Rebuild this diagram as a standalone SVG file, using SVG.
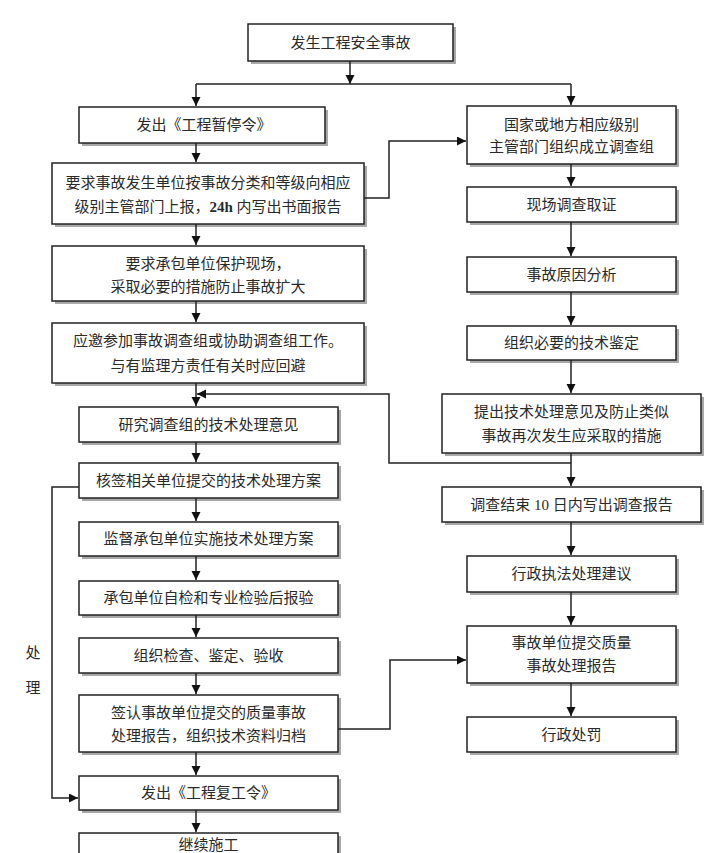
<svg xmlns="http://www.w3.org/2000/svg" width="720" height="853" viewBox="0 0 720 853">
<style>
.bx{fill:#fff;stroke:#222;stroke-width:1.5}
.sh{fill:#a8a8a8}
.t{font-family:"Liberation Serif","Noto Sans CJK SC",serif;font-size:15px;fill:#2a2a2a;text-anchor:middle}
.ln{fill:none;stroke:#222;stroke-width:1.5}
.ar{fill:none;stroke:#222;stroke-width:1.5;marker-end:url(#ah)}
</style>
<defs>
<marker id="ah" markerUnits="userSpaceOnUse" markerWidth="10" markerHeight="10" refX="9" refY="4.5" orient="auto">
<path d="M0,0 L9,4.5 L0,9 z" fill="#111"/>
</marker>
</defs>
<rect width="720" height="853" fill="#fff"/>

<g id="n-top"><rect class="sh" x="251" y="27" width="205" height="37"/><rect class="bx" x="248" y="24" width="205" height="37"/><text class="t" x="350.5" y="48">发生工程安全事故</text></g>

<g id="n-l1"><rect class="sh" x="82" y="110" width="246" height="36"/><rect class="bx" x="79" y="107" width="246" height="36"/><text class="t" x="204" y="130">发出《工程暂停令》</text></g>
<g id="n-l2"><rect class="sh" x="55" y="166" width="312" height="61"/><rect class="bx" x="52" y="163" width="312" height="61"/><text class="t" x="208" y="188">要求事故发生单位按事故分类和等级向相应</text><text class="t" x="208" y="212">级别主管部门上报，<tspan font-weight="bold">24h</tspan> 内写出书面报告</text></g>
<g id="n-l3"><rect class="sh" x="55" y="249" width="312" height="55"/><rect class="bx" x="52" y="246" width="312" height="55"/><text class="t" x="208" y="269">要求承包单位保护现场，</text><text class="t" x="208" y="292">采取必要的措施防止事故扩大</text></g>
<g id="n-l4"><rect class="sh" x="55" y="326" width="312" height="60"/><rect class="bx" x="52" y="323" width="312" height="60"/><text class="t" x="208" y="346">应邀参加事故调查组或协助调查组工作。</text><text class="t" x="208" y="371">与有监理方责任有关时应回避</text></g>
<g id="n-l5"><rect class="sh" x="82" y="410" width="259" height="35"/><rect class="bx" x="79" y="407" width="259" height="35"/><text class="t" x="208.5" y="430">研究调查组的技术处理意见</text></g>
<g id="n-l6"><rect class="sh" x="82" y="466" width="259" height="35"/><rect class="bx" x="79" y="463" width="259" height="35"/><text class="t" x="208.5" y="486">核签相关单位提交的技术处理方案</text></g>
<g id="n-l7"><rect class="sh" x="82" y="525" width="259" height="34"/><rect class="bx" x="79" y="522" width="259" height="34"/><text class="t" x="208.5" y="544">监督承包单位实施技术处理方案</text></g>
<g id="n-l8"><rect class="sh" x="82" y="584" width="259" height="34"/><rect class="bx" x="79" y="581" width="259" height="34"/><text class="t" x="208.5" y="603">承包单位自检和专业检验后报验</text></g>
<g id="n-l9"><rect class="sh" x="82" y="641" width="259" height="35"/><rect class="bx" x="79" y="638" width="259" height="35"/><text class="t" x="208.5" y="661">组织检查、鉴定、验收</text></g>
<g id="n-l10"><rect class="sh" x="82" y="698" width="259" height="57"/><rect class="bx" x="79" y="695" width="259" height="57"/><text class="t" x="208.5" y="718">签认事故单位提交的质量事故</text><text class="t" x="208.5" y="741">处理报告，组织技术资料归档</text></g>
<g id="n-l11"><rect class="sh" x="82" y="779" width="259" height="34"/><rect class="bx" x="79" y="776" width="259" height="34"/><text class="t" x="208.5" y="798">发出《工程复工令》</text></g>
<g id="n-l12"><rect class="sh" x="82" y="836" width="259" height="40"/><rect class="bx" x="79" y="833" width="259" height="40"/><text class="t" x="208.5" y="850">继续施工</text></g>

<g id="n-r1"><rect class="sh" x="470" y="109" width="209" height="58"/><rect class="bx" x="467" y="106" width="209" height="58"/><text class="t" x="571.5" y="130">国家或地方相应级别</text><text class="t" x="571.5" y="152">主管部门组织成立调查组</text></g>
<g id="n-r2"><rect class="sh" x="470" y="190" width="209" height="35"/><rect class="bx" x="467" y="187" width="209" height="35"/><text class="t" x="571.5" y="210">现场调查取证</text></g>
<g id="n-r3"><rect class="sh" x="470" y="260" width="209" height="35"/><rect class="bx" x="467" y="257" width="209" height="35"/><text class="t" x="571.5" y="280">事故原因分析</text></g>
<g id="n-r4"><rect class="sh" x="470" y="329" width="209" height="34"/><rect class="bx" x="467" y="326" width="209" height="34"/><text class="t" x="571.5" y="348">组织必要的技术鉴定</text></g>
<g id="n-r5"><rect class="sh" x="445" y="397" width="259" height="59"/><rect class="bx" x="442" y="394" width="259" height="59"/><text class="t" x="571.5" y="417">提出技术处理意见及防止类似</text><text class="t" x="571.5" y="441">事故再次发生应采取的措施</text></g>
<g id="n-r6"><rect class="sh" x="445" y="490" width="259" height="35"/><rect class="bx" x="442" y="487" width="259" height="35"/><text class="t" x="571.5" y="510">调查结束 10 日内写出调查报告</text></g>
<g id="n-r7"><rect class="sh" x="470" y="559" width="209" height="36"/><rect class="bx" x="467" y="556" width="209" height="36"/><text class="t" x="571.5" y="579">行政执法处理建议</text></g>
<g id="n-r8"><rect class="sh" x="470" y="629" width="209" height="57"/><rect class="bx" x="467" y="626" width="209" height="57"/><text class="t" x="571.5" y="648">事故单位提交质量</text><text class="t" x="571.5" y="671">事故处理报告</text></g>
<g id="n-r9"><rect class="sh" x="470" y="720" width="209" height="35"/><rect class="bx" x="467" y="717" width="209" height="35"/><text class="t" x="571.5" y="740">行政处罚</text></g>

<g id="label"><text class="t" x="33" y="658" font-size="16">处</text><text class="t" x="33" y="693" font-size="16">理</text></g>

<g id="connectors">
<path class="ar" d="M350,61 V84"/>
<path class="ln" d="M196,84 H571"/>
<path class="ar" d="M196,84 V106"/>
<path class="ar" d="M571,84 V105"/>
<path class="ar" d="M196,143 V162"/>
<path class="ar" d="M196,224 V245"/>
<path class="ar" d="M196,301 V322"/>
<path class="ar" d="M196,383 V406"/>
<path class="ar" d="M196,442 V462"/>
<path class="ar" d="M196,498 V521"/>
<path class="ar" d="M196,556 V580"/>
<path class="ar" d="M196,615 V637"/>
<path class="ar" d="M196,673 V694"/>
<path class="ar" d="M196,752 V775"/>
<path class="ar" d="M196,810 V832"/>
<path class="ar" d="M571,164 V186"/>
<path class="ar" d="M571,222 V256"/>
<path class="ar" d="M571,292 V325"/>
<path class="ar" d="M571,360 V393"/>
<path class="ar" d="M571,453 V486"/>
<path class="ar" d="M571,522 V555"/>
<path class="ar" d="M571,592 V625"/>
<path class="ar" d="M571,683 V716"/>
<path class="ar" d="M364,198 H389 V141 H466"/>
<path class="ar" d="M571,463 H389 V394 H197"/>
<path class="ar" d="M79,487 H52 V798 H78"/>
<path class="ar" d="M338,729 H390 V660 H466"/>
</g>
</svg>
